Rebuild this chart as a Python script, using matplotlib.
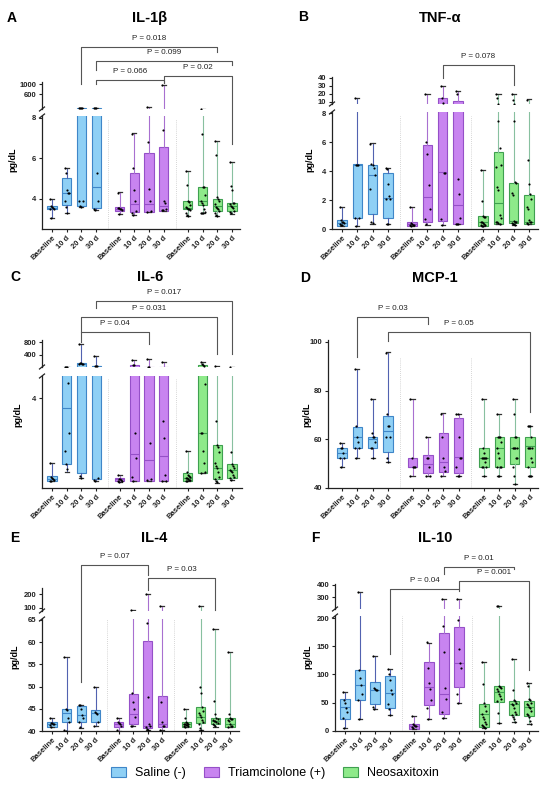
import matplotlib
matplotlib.use("Agg")
import matplotlib.pyplot as plt
from matplotlib import transforms
from matplotlib.patches import Patch
from matplotlib.lines import Line2D

plt.rcParams['font.family'] = ['Liberation Sans', 'DejaVu Sans']
plt.rcParams['font.weight'] = 'bold'

W, H = 550, 788

# ---------------- data ----------------
groups = ["Saline (-)", "Triamcinolone (+)", "Neosaxitoxin"]
timepoints = ["Baseline", "10 d", "20 d", "30 d"]

# box stats per group: (min, q1, median, q3, max); order Saline x4, Triam x4, Neo x4
il1b_stats = [
    (3.06, 3.48, 3.55, 3.64, 4.0), (3.31, 3.67, 4.3, 5.03, 5.53), (3.6, 3.64, 20, 37, 40), (3.45, 3.53, 4.59, 37, 40),
    (3.23, 3.39, 3.5, 3.6, 4.34), (3.2, 3.36, 3.75, 5.25, 7.22), (3.35, 3.36, 3.74, 6.24, 87), (3.39, 3.39, 3.64, 6.53, 950),
    (3.15, 3.48, 3.55, 3.89, 5.38), (3.3, 3.69, 3.89, 4.56, 20), (3.15, 3.41, 3.65, 4.0, 6.86), (3.23, 3.39, 3.64, 3.8, 5.82)]
il1b_points = [
    [4.0, 3.62, 3.58, 3.55, 3.52, 3.5, 3.06], [5.5, 5.25, 4.45, 4.3, 4.3, 3.9, 3.6, 3.3],
    [40, 38, 36, 36, 3.9, 3.9, 3.65, 3.6], [40, 38, 38, 5.27, 3.9, 3.5, 3.45],
    [3.55, 3.55, 3.5, 3.5, 3.45, 4.3, 3.25], [7.2, 5.5, 4.45, 3.9, 3.4, 3.3, 3.2],
    [87, 6.8, 4.46, 3.9, 3.4, 3.35], [950, 7.4, 3.9, 3.8, 3.5, 3.45, 3.45],
    [5.35, 4.7, 3.9, 3.85, 3.7, 3.6, 3.55, 3.5, 3.5, 3.45, 3.3, 3.2, 3.15],
    [20, 7.2, 4.6, 4.6, 4.2, 3.9, 3.8, 3.7, 3.5, 3.35, 3.3, 3.3, 3.3],
    [6.86, 6.15, 4.1, 4.0, 3.9, 3.75, 3.6, 3.55, 3.5, 3.4, 3.3, 3.2, 3.15],
    [5.82, 4.65, 4.45, 3.8, 3.8, 3.75, 3.65, 3.6, 3.55, 3.4, 3.35, 3.3]]
il1b_brackets = [(2, 10, "P = 0.018"), (3, 11, "P = 0.099"), (3, 7, "P = 0.066"), (7, 11, "P = 0.02")]

tnf_stats = [
    (0.2, 0.21, 0.4, 0.62, 1.54), (0.2, 0.74, 4.4, 4.47, 15), (0.35, 1.04, 3.71, 4.43, 5.93), (0.35, 0.78, 2.12, 3.85, 4.2),
    (0.2, 0.2, 0.35, 0.5, 1.54), (0.28, 0.5, 2.24, 5.81, 20), (0.28, 0.58, 3.92, 15.4, 30), (0.35, 0.35, 1.64, 11.25, 24),
    (0.2, 0.21, 0.45, 0.92, 4.08), (0.35, 0.35, 1.82, 5.35, 20), (0.3, 0.44, 0.58, 3.2, 20), (0.35, 0.35, 0.5, 2.35, 13.4)]
tnf_points = [
    [1.55, 0.6, 0.5, 0.45, 0.4, 0.35, 0.3, 0.25], [15, 4.45, 4.45, 4.4, 0.75, 0.75, 0.2],
    [5.9, 4.5, 4.45, 4.2, 3.7, 2.8, 0.45, 0.4], [4.2, 4.15, 3.1, 2.3, 2.1, 2.05, 0.35, 0.35],
    [1.55, 0.4, 0.35, 0.3, 0.25, 0.25, 0.2], [20, 6.0, 5.2, 3.05, 1.35, 0.7, 0.35],
    [30, 15, 9, 3.9, 3.9, 0.7, 0.3], [24, 20, 3.45, 2.45, 0.75, 0.35, 0.35, 0.35],
    [4.05, 1.95, 0.9, 0.85, 0.8, 0.5, 0.45, 0.4, 0.35, 0.3, 0.25, 0.2, 0.2],
    [20, 15, 7.5, 5.6, 4.45, 4.3, 2.9, 2.7, 1.0, 0.75, 0.5, 0.45, 0.4, 0.35],
    [20, 12, 7.5, 3.25, 3.2, 2.5, 2.35, 0.55, 0.5, 0.45, 0.4, 0.35, 0.35, 0.3],
    [13, 4.8, 3.1, 2.4, 2.05, 1.5, 1.4, 0.6, 0.5, 0.45, 0.4, 0.35]]
tnf_brackets = [(6, 10, "P = 0.078")]

il6_stats = [
    (0.3, 0.31, 0.4, 0.55, 1.1), (0.73, 1.07, 3.58, 14, 15), (0.45, 0.65, 100, 140, 760), (0.3, 0.4, 30, 37, 357),
    (0.25, 0.31, 0.38, 0.45, 0.6), (0.3, 0.3, 1.5, 70, 229), (0.3, 0.3, 1.26, 20, 261), (0.3, 0.3, 1.43, 10, 175),
    (0.3, 0.31, 0.45, 0.65, 1.65), (0.65, 0.65, 2.46, 80, 175), (0.24, 0.4, 0.9, 1.91, 37), (0.35, 0.43, 0.8, 1.07, 20)]
il6_points = [
    [1.1, 0.5, 0.45, 0.4, 0.35, 0.3, 0.3], [15, 15, 15, 4.69, 2.46, 1.65, 1.05, 0.85],
    [760, 150, 130, 110, 100, 90, 0.55, 0.45], [357, 37, 37, 37, 0.45, 0.35, 0.3],
    [0.6, 0.4, 0.38, 0.35, 0.3, 0.3, 0.25], [229, 60, 60, 2.45, 1.35, 0.5, 0.3],
    [261, 20, 20, 2.0, 0.4, 0.35], [175, 3.0, 2.24, 0.58, 0.3, 0.3],
    [1.65, 0.7, 0.6, 0.55, 0.5, 0.45, 0.45, 0.4, 0.35, 0.35, 0.3, 0.3],
    [175, 100, 60, 40, 4.64, 2.45, 2.45, 1.65, 1.1, 0.7, 0.65],
    [37, 2.98, 1.9, 1.85, 1.6, 1.1, 1.0, 0.9, 0.7, 0.5, 0.4, 0.3, 0.25],
    [20, 1.6, 1.05, 1.0, 0.9, 0.8, 0.75, 0.7, 0.6, 0.5, 0.45, 0.35]]
il6_brackets = [(2, 6, "P = 0.04"), (2, 10, "P = 0.031"), (3, 11, "P = 0.017")]

mcp1_stats = [
    (48.5, 52.5, 54.3, 56.6, 58.6), (52.5, 56.6, 61.1, 65.1, 88.9), (52.5, 56.6, 60.3, 61.1, 76.6), (50.6, 54.7, 63.3, 69.5, 95.8),
    (45, 48.5, 48.5, 52.5, 76.5), (45, 46, 50, 53.6, 61), (45, 46.7, 50.8, 62.7, 71), (45, 46, 52.6, 68.6, 70.5),
    (45, 48.5, 52.5, 56.6, 76.5), (45, 48.5, 56.6, 61, 70.5), (41.5, 49.7, 56.6, 61, 76.5), (45, 48.5, 57.3, 61, 65.6)]
mcp1_points = [
    [58.6, 56.5, 56.5, 54.5, 52.5, 52.5, 48.5], [88.9, 65.5, 61, 59, 56.5, 56.5, 52.5],
    [76.5, 62.5, 61, 61, 59, 56.5, 56.5, 52.5], [95.5, 70.5, 65.5, 65.5, 61, 61, 52.5, 50.5],
    [76.5, 52.5, 48.5, 48.5, 48.5, 45], [61, 52.5, 52.5, 48.5, 45, 45],
    [70.5, 61, 52.5, 48.5, 47, 45], [70.5, 70.5, 61, 52.5, 52.5, 48.5, 45, 45],
    [76.5, 56.5, 54.5, 52.5, 52.5, 52.5, 52.5, 52.5, 50.5, 48.5, 48.5, 48.5, 45],
    [70.5, 61, 61, 61, 59, 56.5, 54.5, 52.5, 48.5, 48.5, 48.5, 45, 45],
    [76.5, 70.5, 61, 61, 56.5, 56.5, 56.5, 56.5, 52.5, 52.5, 48.5, 45, 41.5],
    [65.5, 65.5, 65.5, 61, 56.5, 56.5, 56.5, 56.5, 52.5, 50.5, 48.5, 45, 45, 45]]
mcp1_brackets = [(1, 5, "P = 0.03"), (3, 11, "P = 0.05")]

il4_stats = [
    (41.0, 41.0, 41.6, 42.1, 43.0), (40.0, 42.0, 44.0, 45.0, 56.6), (40.75, 42.0, 43.6, 45.7, 45.8), (41.2, 42.0, 44.0, 44.7, 50.0),
    (40.1, 41.0, 41.6, 42.1, 43.0), (41.2, 41.6, 43.8, 48.3, 85), (40.2, 40.75, 41.2, 60.2, 200), (40.2, 41.0, 41.6, 47.9, 115),
    (41.0, 41.0, 41.5, 42.1, 44.9), (40.2, 41.7, 43.2, 45.5, 115), (41.0, 41.5, 42.3, 43.0, 62.9), (41.0, 41.0, 41.6, 43.0, 57.8)]
il4_points = [
    [43, 41.8, 41.7, 41.6, 41.5, 41.4, 41.0], [56.6, 45, 44.8, 43, 42, 40.2, 40],
    [45.8, 45.8, 45.0, 43.6, 43, 42, 40.8], [50, 44.3, 44, 43.8, 42, 41.2],
    [43, 42, 41.8, 41.6, 41.2, 40.2], [85, 48.6, 46.6, 44.9, 43.2, 41.2, 41.2],
    [200, 64.3, 47.6, 41.5, 41.2, 40.8, 40.5, 40.2], [115, 46.6, 42.1, 41.2, 41.2, 40.2],
    [45, 43, 42, 41.8, 41.6, 41.5, 41.5, 41.4, 41.3, 41.2, 41.1, 41],
    [115, 50, 48.5, 45.5, 44.5, 44, 43.5, 43.2, 42.5, 42, 41.5, 40.6, 40.2],
    [63, 46.8, 43.8, 43, 42.8, 42.5, 42.3, 42.2, 42, 41.8, 41.6, 41.4, 41.1],
    [57.8, 43.8, 43, 42.8, 42.6, 42.5, 42.3, 41.5, 41.2, 41.1, 41]]
il4_brackets = [(2, 6, "P = 0.07"), (6, 10, "P = 0.03")]

il10_stats = [
    (4.2, 20.8, 41.7, 55.9, 68.4), (20.2, 54.7, 82, 108, 345), (38, 47.6, 72.5, 86.2, 132), (28, 39.9, 66.6, 97.4, 110),
    (3, 3, 8, 11.4, 26.7), (20, 45.2, 77.3, 122.4, 156.8), (22, 29.8, 65.4, 174.6, 284), (50, 77.3, 120, 184.2, 284),
    (4, 6, 30, 47, 122), (14, 51.7, 69.5, 80.2, 230), (15, 28, 48, 53.4, 127), (11.4, 27, 41.7, 53.4, 84)]
il10_points = [
    [68, 55, 50, 41, 33, 22, 5], [345, 108, 94, 82, 65, 55, 20],
    [132, 76, 74, 73, 72, 42, 38], [110, 100, 90, 72, 66, 48, 38, 28],
    [27, 12, 10, 9, 8, 6, 5], [157, 112, 85, 75, 55, 40, 20],
    [284, 186, 140, 76, 56, 34, 22], [284, 196, 145, 120, 112, 66, 50],
    [122, 83, 50, 44, 35, 30, 25, 20, 15, 12, 10, 8, 6, 5],
    [230, 230, 80, 78, 76, 74, 70, 66, 62, 57, 52, 32, 14],
    [127, 73, 54, 52, 50, 48, 45, 40, 34, 30, 28, 24, 20, 16],
    [84, 80, 57, 55, 50, 48, 45, 42, 40, 35, 30, 28, 24, 18, 12]]
il10_brackets = [(3, 7, "P = 0.04"), (6, 10, "P = 0.01"), (7, 11, "P = 0.001")]

# ---------------- styles / layout ----------------
positions = [0, 1, 2, 3, 4.6, 5.6, 6.6, 7.6, 9.25, 10.25, 11.25, 12.25]
separators = [3.8, 8.43]
fills = ['#8fd0f5', '#c884f0', '#8eea8a']
edges = ['#3f86c8', '#9550c8', '#3fa050']
whisk = ['#5262b0', '#a870d0', '#88c0a0']

def fy(px):
    return 1 - px / H

def fx(px):
    return px / W

panels = [
    dict(title="IL-1β", letter="A", stats=il1b_stats, points=il1b_points, brackets=il1b_brackets,
         x0=42, x1=240, first=52, last=232, sep_top=0.97,
         low=(116, 229, 2.51, 8.08, [4, 6, 8]), up=(82, 109, 8, 1080, [600, 1000]),
         title_xy=(150, 18), letter_xy=(12, 18), ylabel_xy=(13, 160),
         blay=[(46.7, 84, 52), (60.7, 70, 65), (80, 84, 83), (76, 83, 144)]),
    dict(title="TNF-α", letter="B", stats=tnf_stats, points=tnf_points, brackets=tnf_brackets,
         x0=332, x1=538, first=342, last=529, sep_top=0.97,
         low=(112, 229, 0, 8.09, [0, 2, 4, 6, 8]), up=(77, 104, 7.5, 41.25, [10, 20, 30, 40]),
         title_xy=(440, 18), letter_xy=(303, 17), ylabel_xy=(310, 160),
         blay=[(65, 78, 85)]),
    dict(title="IL-6", letter="C", stats=il6_stats, points=il6_points, brackets=il6_brackets,
         x0=42, x1=242, first=52, last=232, sep_top=0.97,
         low=(376, 488, 0, 5.0, [4]), up=(340, 367, 5, 877, [400, 800]),
         title_xy=(150, 277), letter_xy=(15, 277), ylabel_xy=(18, 415),
         blay=[(331.7, 342.3, 344), (316.7, 331.7, 354), (300.7, 308, 354)]),
    dict(title="MCP-1", letter="D", stats=mcp1_stats, points=mcp1_points, brackets=mcp1_brackets,
         x0=328, x1=538, first=342, last=530, sep_top=0.88,
         low=(340, 488, 40, 100.8, [40, 60, 80, 100]), up=None,
         title_xy=(435, 278), letter_xy=(305, 278), ylabel_xy=(307, 415),
         blay=[(317.3, 356.7, 324), (331.7, 341, 411.7)]),
    dict(title="IL-4", letter="E", stats=il4_stats, points=il4_points, brackets=il4_brackets,
         x0=42, x1=239, first=52, last=230, sep_top=1.0,
         low=(619, 731, 40, 65.2, [40, 45, 50, 55, 60, 65]), up=(588, 611, 76, 244, [100, 200]),
         title_xy=(154, 538), letter_xy=(15, 538), ylabel_xy=(15, 657),
         blay=[(565, 681.7, 575), (578.3, 590, 610)]),
    dict(title="IL-10", letter="F", stats=il10_stats, points=il10_points, brackets=il10_brackets,
         x0=335, x1=538, first=345, last=529, sep_top=1.0,
         low=(616, 730.7, 0, 204, [0, 50, 100, 150, 200]), up=(584, 609, 205, 408, [300, 400]),
         title_xy=(435, 538), letter_xy=(315, 538), ylabel_xy=(308, 657),
         blay=[(589, 654, 591), (566.7, 574.3, 569.3), (580.7, 589, 670)]),
]

fig = plt.figure(figsize=(W / 100, H / 100), dpi=100)
fig.patch.set_facecolor('white')


def draw_boxes(ax, stats, points, lo, hi):
    span = hi - lo

    def clip(v):
        # push values outside this axis segment far away so that they are fully clipped
        if v < lo:
            return lo - 2 * span
        if v > hi:
            return hi + 2 * span
        return v

    bxs = [dict(whislo=clip(s[0]), q1=clip(s[1]), med=clip(s[2]), q3=clip(s[3]), whishi=clip(s[4]), fliers=[])
           for s in stats]
    res = ax.bxp(bxs, positions=positions, widths=0.62, patch_artist=True, showfliers=False,
                 capwidths=0.28, manage_ticks=False)
    for k, box in enumerate(res['boxes']):
        g = k // 4
        box.set_facecolor(fills[g])
        box.set_edgecolor(edges[g])
        box.set_linewidth(0.8)
        res['medians'][k].set_color(edges[g])
        res['medians'][k].set_linewidth(0.8)
        for w in res['whiskers'][2 * k:2 * k + 2]:
            w.set_color(whisk[g])
            w.set_linewidth(0.8)
        for c in res['caps'][2 * k:2 * k + 2]:
            c.set_color('#333333')
            c.set_linewidth(0.9)
    for k, pts in enumerate(points):
        xs, ys = [], []
        for m, v in enumerate(pts):
            if lo <= v <= hi:
                xs.append(positions[k] + ((m % 5) - 2) * 0.07)
                ys.append(v)
        ax.scatter(xs, ys, s=2.4, c='black', zorder=4, linewidths=0)


for p in panels:
    x0, x1 = p['x0'], p['x1']
    scale = (p['last'] - p['first']) / positions[-1]
    xlim = ((x0 - p['first']) / scale, (x1 - p['first']) / scale)
    ltop, lbot, lmin, lmax, lticks = p['low']
    axl = fig.add_axes([fx(x0), fy(lbot), fx(x1 - x0), (lbot - ltop) / H])
    draw_boxes(axl, p['stats'], p['points'], lmin, lmax)
    axl.set_xlim(*xlim)
    axl.set_ylim(lmin, lmax)
    axl.set_yticks(lticks)
    axl.set_xticks(positions)
    axl.set_xticklabels(timepoints * 3, rotation=45, ha='right', rotation_mode='anchor')
    for s in ['top', 'right']:
        axl.spines[s].set_visible(False)
    for s in ['left', 'bottom']:
        axl.spines[s].set_linewidth(0.9)
        axl.spines[s].set_color('#222222')
    axl.tick_params(length=2.5, width=0.8, labelsize=5.5, pad=1.5, colors='#222222')
    for sx in separators:
        axl.axvline(sx, ymin=0, ymax=p['sep_top'], color='#c8c8c8', lw=0.6, ls=(0, (1, 1.5)), zorder=0)

    if p['up'] is not None:
        utop, ubot, umin, umax, uticks = p['up']
        axu = fig.add_axes([fx(x0), fy(ubot), fx(x1 - x0), (ubot - utop) / H])
        draw_boxes(axu, p['stats'], p['points'], umin, umax)
        axu.set_xlim(*xlim)
        axu.set_ylim(umin, umax)
        axu.set_yticks(uticks)
        axu.set_xticks([])
        for s in ['top', 'right', 'bottom']:
            axu.spines[s].set_visible(False)
        axu.spines['left'].set_linewidth(0.9)
        axu.spines['left'].set_color('#222222')
        axu.tick_params(length=2.5, width=0.8, labelsize=5.5, pad=1.5, colors='#222222')
        # break marks
        for yb in (ubot, ltop):
            fig.add_artist(Line2D([fx(x0 - 2.5), fx(x0 + 2.5)], [fy(yb + 2), fy(yb - 2)],
                                  transform=fig.transFigure, color='#222222', lw=0.9))

    # significance brackets
    trans = transforms.blended_transform_factory(axl.transData, fig.transFigure)
    for (i, j, lab), (yb, yl, yr) in zip(p['brackets'], p['blay']):
        xi, xj = positions[i], positions[j]
        fig.add_artist(Line2D([xi, xi, xj, xj], [fy(yl), fy(yb), fy(yb), fy(yr)],
                              transform=trans, color='#555555', lw=0.8))
        axl.text((xi + xj) / 2, fy(yb - 8.5), lab, transform=trans, ha='center', va='center',
                 fontsize=5.8, fontweight='normal', color='#222222', clip_on=False)

    fig.text(fx(p['title_xy'][0]), fy(p['title_xy'][1]), p['title'], ha='center', va='center',
             fontsize=10.5, fontweight='bold')
    fig.text(fx(p['letter_xy'][0]), fy(p['letter_xy'][1]), p['letter'], ha='center', va='center',
             fontsize=10, fontweight='bold')
    fig.text(fx(p['ylabel_xy'][0]), fy(p['ylabel_xy'][1]), "pg/dL", rotation=90, ha='center',
             va='center', fontsize=6.5, fontweight='bold')

handles = [Patch(facecolor=fills[g], edgecolor=edges[g], linewidth=0.8, label=groups[g]) for g in range(3)]
fig.legend(handles=handles, loc='center', bbox_to_anchor=(fx(275), fy(773)), ncol=3, frameon=False,
           prop={'weight': 'normal', 'size': 9}, handlelength=1.2, handleheight=0.85,
           handletextpad=0.75, columnspacing=1.4)

fig.savefig("out.png", dpi=100, facecolor='white')
